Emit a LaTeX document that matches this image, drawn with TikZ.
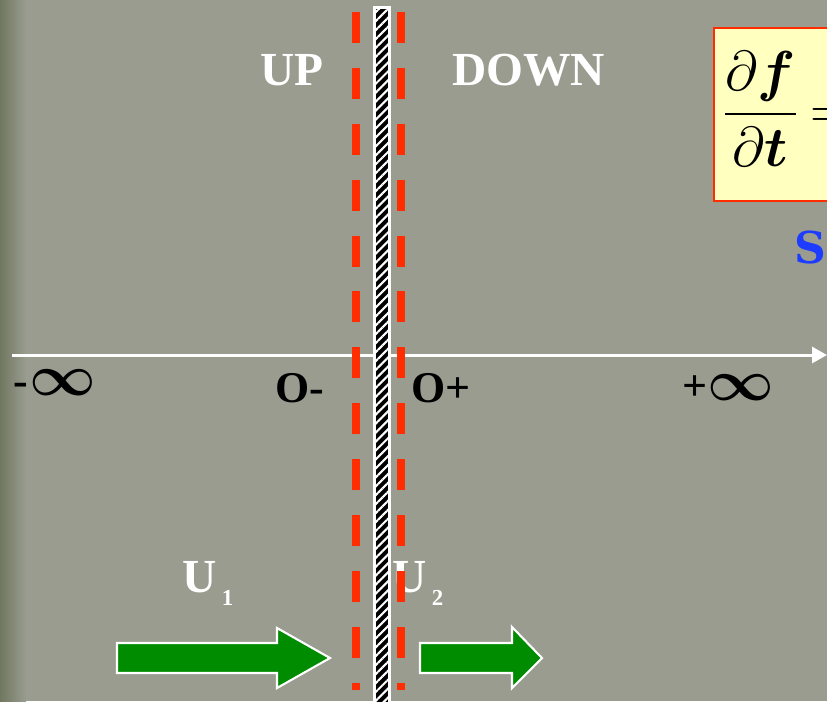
\RequirePackage{fix-cm}
\documentclass[tikz,border=0pt]{standalone}
\usepackage{amsmath, amssymb}
\usepackage{fontspec}
\setmainfont{Liberation Serif}
\newfontfamily\slabfont{DejaVu Serif}
\usepackage{xcolor}
\usepackage{tikz}
\usetikzlibrary{arrows.meta, patterns.meta, positioning}

\definecolor{nen}{RGB}{153,156,143}
\definecolor{nentoi}{RGB}{112,120,96}
\definecolor{vachdo}{RGB}{255,45,0}
\definecolor{xanhla}{RGB}{0,140,0}
\definecolor{vangnhat}{RGB}{255,255,192}
\definecolor{xanhduong}{RGB}{30,60,255}

\begin{document}
\begin{tikzpicture}[x=0.02cm, y=-0.02cm,
    nhan/.style={font=\fontsize{25}{30}\selectfont\bfseries, text=black, inner sep=0pt},
    nhantrang/.style={font=\fontsize{27}{32}\selectfont\bfseries, text=white, inner sep=0pt},
    vach/.style={draw=vachdo, line width=0.16cm, dash pattern=on 0.62cm off 0.498cm},
    muiten/.style={fill=xanhla, draw=white, line width=1.2pt}]
    % Nền
    \clip (0,0) rectangle (827,701);
    \fill[nen] (0,0) rectangle (827,701);
    \fill[left color=nentoi, right color=nen] (0,0) rectangle (26,701);

    % Trục số
    \coordinate (trucTrai) at (12,355);
    \coordinate (trucPhai) at (827,355);
    \draw[white, line width=1.7pt, -{Triangle[length=0.3cm, width=0.32cm]}] (trucTrai) -- (trucPhai);
    \node[nhan, anchor=base west] (amVC) at (13,395) {-\hspace{1pt}{\fontsize{33}{36}\selectfont$\boldsymbol{\infty}$}};
    \node[nhan, anchor=base west] (khongTru) at (275,402) {O-};
    \node[nhan, anchor=base west] (khongCong) at (411,402) {O+};
    \node[nhan, anchor=base west] (duongVC) at (682,400) {+{\fontsize{33}{36}\selectfont$\boldsymbol{\infty}$}};

    % Nhãn
    \node[nhantrang, anchor=base west] (up) at (260,85) {UP};
    \node[nhantrang, anchor=base west] (down) at (452,85) {DOWN};
    \node[nhantrang, anchor=base west] (u1) at (182,592) {U\hspace{3pt}\raisebox{-7.5pt}{\fontsize{13}{13}\selectfont 1}};
    \node[nhantrang, anchor=base west] (u2) at (392,592) {U\hspace{3pt}\raisebox{-7.5pt}{\fontsize{13}{13}\selectfont 2}};

    % Hộp công thức
    \draw[fill=vangnhat, draw=vachdo, line width=1.3pt] (714,28) rectangle (850,201);
    \node[anchor=west, inner sep=0pt] (phanSo) at (723,109)
        {\fontsize{32}{40}\selectfont$\dfrac{\partial\boldsymbol{f}}{\partial\boldsymbol{t}}\mkern-1mu=$};
    \node[anchor=base west, inner sep=0pt, text=xanhduong,
        font=\slabfont\bfseries\fontsize{25}{30}\selectfont] (chuS) at (794,263) {S};

    % Mũi tên vận tốc
    \draw[muiten] (117,643) -- (277,643) -- (277,628) -- (330,658) -- (277,688) -- (277,673) -- (117,673) -- cycle;
    \draw[muiten] (420,643) -- (512,643) -- (512,627) -- (542,658) -- (512,688) -- (512,673) -- (420,673) -- cycle;

    % Vách ngăn
    \fill[white] (373,6) rectangle (391,710);
    \fill[preaction={fill=black}, pattern={Lines[angle=45, distance=3.6pt, line width=1.2pt]},
        pattern color=white] (376,9) rectangle (388,710);
    \draw[vach] (356,12) -- (356,690);
    \draw[vach] (401,12) -- (401,690);
\end{tikzpicture}
\end{document}
